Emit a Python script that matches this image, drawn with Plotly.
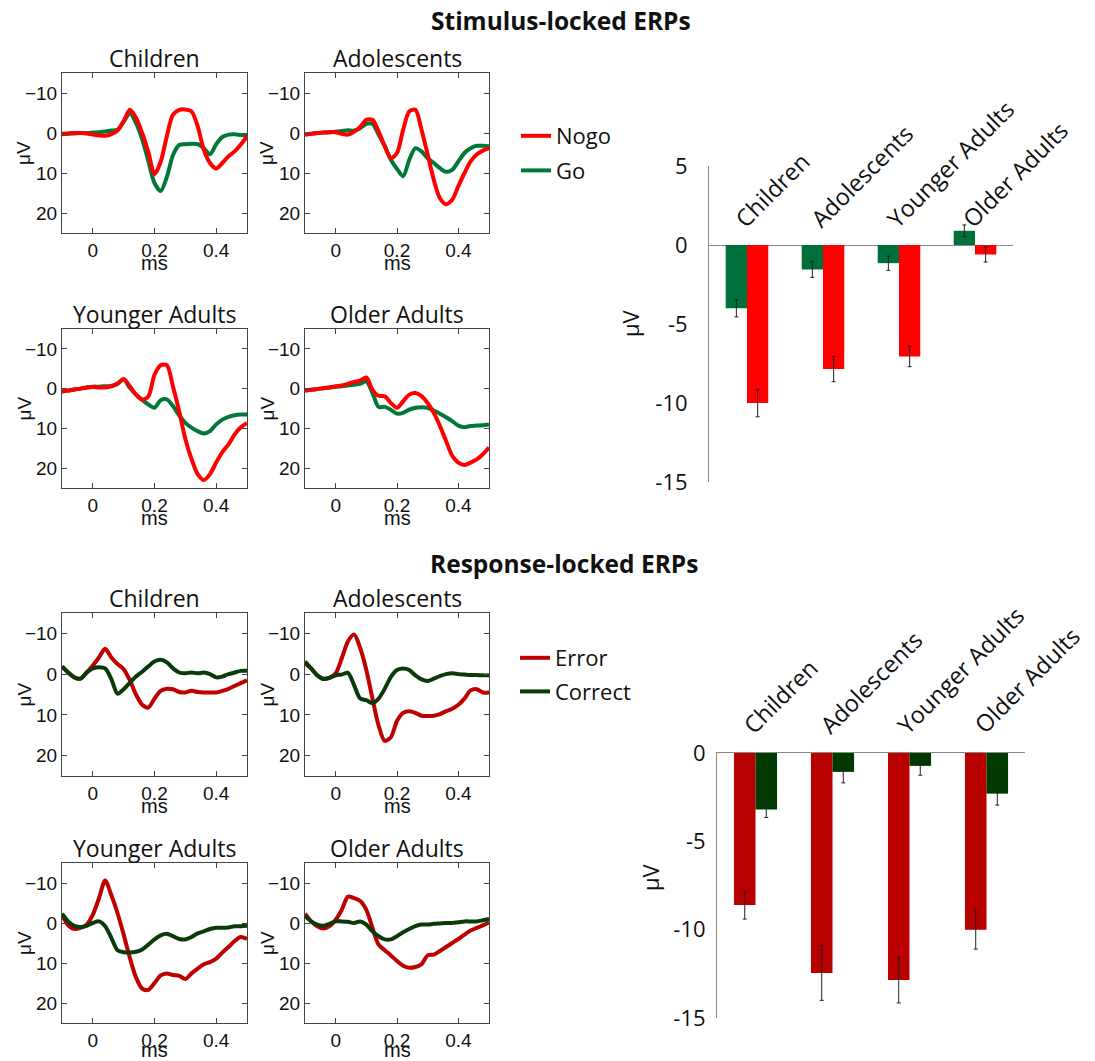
import plotly.graph_objects as go

W, H = 1095, 1061

# ---------------- data ----------------
groups = ["Children", "Adolescents", "Younger Adults", "Older Adults"]

time_s = [-0.10, -0.08, -0.06, -0.04, -0.02, 0.00, 0.02, 0.04, 0.06, 0.08, 0.10,
          0.12, 0.14, 0.16, 0.18, 0.20, 0.22, 0.24, 0.26, 0.28, 0.30, 0.32,
          0.34, 0.36, 0.38, 0.40, 0.42, 0.44, 0.46, 0.48, 0.50]

# Stimulus-locked ERPs (µV)
nogo_children = [0.2, 0.1, 0.0, 0.0, 0.1, 0.4, 0.6, 0.7, 0.3, -0.6, -3.0, -5.8, -3.8, 0.0, 4.8, 10.3,
                 7.2, 0.8, -4.6, -5.8, -5.9, -5.4, -1.7, 4.2, 7.5, 8.9, 7.5, 5.8, 4.6, 2.9, 0.8]
go_children = [0.3, 0.2, 0.1, 0.0, 0.0, -0.1, -0.2, -0.4, -0.6, -0.8, -2.8, -5.0, -2.5, 1.5, 7.0, 12.5,
               14.5, 11.0, 5.5, 3.0, 2.8, 2.7, 2.8, 3.8, 5.3, 2.8, 1.0, 0.4, 0.3, 0.5, 0.6]
nogo_adolescents = [0.4, 0.2, 0.0, -0.1, -0.2, -0.2, 0.2, 0.4, -0.3, -1.5, -3.3, -3.3, -0.4, 3.3, 6.3, 5.0,
                    -0.8, -5.4, -5.8, -0.8, 5.4, 11.7, 16.3, 17.8, 16.7, 13.3, 10.0, 7.1, 5.4, 4.4, 3.8]
go_adolescents = [0.4, 0.2, 0.0, -0.1, -0.2, -0.3, -0.5, -0.7, -0.6, -1.2, -2.3, -2.3, 0.4, 3.3, 6.7, 9.0,
                  10.8, 6.7, 3.8, 4.6, 6.3, 7.5, 8.8, 9.7, 9.2, 7.1, 5.0, 3.8, 3.2, 3.2, 3.3]
nogo_younger = [0.7, 0.5, 0.2, 0.0, -0.3, -0.4, -0.3, -0.3, -0.6, -1.3, -2.4, -0.6, 1.5, 2.8, 2.0, -3.5,
                -5.9, -5.9, -0.5, 5.7, 12.7, 17.7, 21.5, 23.0, 21.5, 18.6, 16.0, 14.0, 11.5, 9.7, 8.6]
go_younger = [0.7, 0.5, 0.2, 0.0, -0.3, -0.5, -0.5, -0.6, -0.7, -1.2, -2.3, -0.2, 1.5, 2.8, 4.0, 4.8,
              2.9, 2.7, 4.4, 6.7, 8.6, 9.8, 10.7, 11.3, 10.7, 9.0, 7.8, 7.1, 6.7, 6.5, 6.5]
nogo_older = [0.5, 0.3, 0.1, -0.1, -0.3, -0.6, -0.8, -1.2, -1.7, -2.0, -2.8, 0.3, 1.8, 1.9, 3.6, 4.8,
              3.2, 1.5, 1.1, 1.9, 3.6, 6.1, 9.4, 13.2, 16.9, 18.6, 19.2, 18.6, 17.8, 16.5, 14.8]
go_older = [0.5, 0.3, 0.1, -0.1, -0.3, -0.5, -0.6, -0.8, -1.0, -1.2, -1.8, 1.1, 4.6, 4.6, 5.3, 6.3,
            6.1, 5.3, 4.8, 4.7, 4.8, 5.5, 6.3, 7.2, 8.2, 9.3, 9.7, 9.4, 9.3, 9.2, 9.0]

# Response-locked ERPs (µV)
error_children = [-1.9, -0.4, 0.8, 1.1, -0.4, -2.1, -4.1, -6.2, -4.1, -2.5, -1.2, 1.5, 5.0, 7.5, 8.2, 6.0,
                  4.1, 3.6, 3.7, 4.4, 4.5, 4.1, 4.4, 4.5, 4.5, 4.5, 4.1, 3.6, 2.9, 2.2, 1.5]
correct_children = [-1.9, -0.4, 0.8, 1.1, -0.4, -1.4, -1.7, -1.4, 1.2, 4.8, 3.7, 2.1, 0.6, -0.6, -1.9, -3.1,
                    -3.5, -2.9, -1.4, -0.4, -0.2, -0.4, -0.2, -0.4, 0.0, 0.8, 0.6, 0.0, -0.4, -0.8, -0.8]
error_adolescents = [-2.6, -1.4, 0.3, 1.1, 0.9, -0.2, -3.9, -8.0, -9.7, -6.4, -1.0, 6.0, 12.6, 16.4, 15.5, 11.5,
                     9.5, 9.1, 9.5, 10.2, 10.3, 10.2, 9.8, 9.1, 8.5, 7.5, 6.0, 4.0, 3.7, 4.5, 4.5]
correct_adolescents = [-3.1, -1.4, 0.3, 1.2, 0.9, 0.3, 0.1, -0.3, 2.7, 6.0, 6.4, 7.1, 6.0, 3.6, 0.7, -1.0,
                       -1.4, -1.0, 0.3, 1.3, 1.7, 1.1, 0.5, 0.0, -0.2, 0.0, 0.1, 0.2, 0.2, 0.3, 0.3]
error_younger = [-2.1, 0.6, 1.5, 1.2, 0.4, -2.1, -6.2, -10.6, -7.0, -2.5, 2.9, 8.7, 13.6, 16.4, 16.7, 15.0,
                 13.1, 12.6, 13.0, 13.2, 14.0, 12.6, 11.4, 10.3, 9.8, 8.9, 7.4, 6.0, 4.5, 3.5, 4.0]
correct_younger = [-2.3, -0.4, 0.7, 1.0, 0.7, 0.0, -0.4, 0.8, 3.7, 6.8, 7.3, 7.4, 7.2, 6.6, 5.4, 4.1,
                   3.1, 2.7, 3.3, 4.0, 4.1, 3.5, 2.6, 2.1, 1.5, 1.2, 1.2, 1.1, 0.8, 0.8, 0.7]
error_older = [-2.3, -0.4, 0.8, 1.4, 0.8, -0.8, -3.3, -6.6, -6.2, -5.5, -3.3, 1.2, 5.4, 6.8, 8.1, 9.5,
               10.7, 11.2, 11.0, 10.3, 8.1, 7.9, 7.0, 6.0, 5.0, 4.0, 2.9, 1.9, 1.2, 0.6, -0.2]
correct_older = [-1.8, -0.4, 0.4, 0.7, 0.2, -0.4, -0.4, -0.3, 0.0, -0.4, 0.4, 2.1, 3.3, 4.1, 4.1, 3.3,
                 2.3, 1.5, 0.8, 0.4, 0.4, 0.2, 0.1, 0.0, 0.0, -0.2, -0.4, -0.4, -0.4, -0.7, -1.0]

# Bar charts (mean, SE), µV
stim_go_mean = [-4.0, -1.55, -1.15, 0.9]
stim_go_se = [0.55, 0.5, 0.45, 0.37]
stim_nogo_mean = [-10.0, -7.85, -7.05, -0.6]
stim_nogo_se = [0.87, 0.8, 0.65, 0.48]
resp_error_mean = [-8.6, -12.45, -12.85, -10.0]
resp_error_se = [0.8, 1.55, 1.3, 1.1]
resp_correct_mean = [-3.2, -1.07, -0.73, -2.3]
resp_correct_se = [0.45, 0.62, 0.53, 0.65]

# tick labels
erp_xtickvals = [0, 0.2, 0.4]
erp_xticktext = ["0", "0.2", "0.4"]
erp_ytickvals = [-10, 0, 10, 20]
erp_yticktext = ["\u221210", "0", "10", "20"]
bar1_tickvals = [5, 0, -5, -10, -15]
bar1_ticktext = ["5", "0", "-5", "-10", "-15"]
bar2_tickvals = [0, -5, -10, -15]
bar2_ticktext = ["0", "-5", "-10", "-15"]

# ---------------- styling ----------------
C_NOGO = "#FF0000"
C_GO = "#00783A"
C_ERR = "#BE0000"
C_COR = "#0A3A0A"
C_GO_BAR = "#00703A"
C_ERR_BAR = "#B90000"
C_COR_BAR = "#003A00"

ERP_FONT = "Liberation Sans, Arial, sans-serif"
TXT_FONT = "Open Sans, Lato, sans-serif"


def px(x):
    return x / W


def py(y):
    return 1 - y / H


# panel boxes in pixels: (left, right, top, bottom)
panels = [
    (62, 247, 73, 233),    # stim children
    (305, 489, 73, 233),   # stim adolescents
    (62, 247, 329, 488),   # stim younger
    (305, 489, 329, 488),  # stim older
    (62, 247, 613, 776),   # resp children
    (305, 489, 613, 776),  # resp adolescents
    (62, 247, 863, 1023),  # resp younger
    (305, 489, 863, 1023), # resp older
]

stim_curves = [(nogo_children, go_children), (nogo_adolescents, go_adolescents),
               (nogo_younger, go_younger), (nogo_older, go_older)]
resp_curves = [(error_children, correct_children), (error_adolescents, correct_adolescents),
               (error_younger, correct_younger), (error_older, correct_older)]

fig = go.Figure()
layout = {}
annotations = []
LW = 4

for i, (l, r, t, b) in enumerate(panels):
    n = i + 1
    xa = "xaxis" if n == 1 else f"xaxis{n}"
    ya = "yaxis" if n == 1 else f"yaxis{n}"
    xr = "x" if n == 1 else f"x{n}"
    yr = "y" if n == 1 else f"y{n}"
    layout[xa] = dict(domain=[px(l), px(r)], range=[-0.1, 0.5], anchor=yr, automargin=False,
                      tickvals=erp_xtickvals, ticktext=erp_xticktext,
                      ticks="inside", ticklen=5, tickcolor="#444",
                      showline=True, linecolor="#444", linewidth=1, mirror="ticks",
                      showgrid=False, zeroline=False,
                      tickfont=dict(family=ERP_FONT, size=19, color="#111"))
    layout[ya] = dict(domain=[py(b), py(t)], range=[25, -15], anchor=xr, automargin=False,
                      tickvals=erp_ytickvals, ticktext=erp_yticktext,
                      ticks="inside", ticklen=5, tickcolor="#444",
                      showline=True, linecolor="#444", linewidth=1, mirror="ticks",
                      showgrid=False, zeroline=False,
                      tickfont=dict(family=ERP_FONT, size=19, color="#111"))
    if i < 4:
        red, green = stim_curves[i]
        # Go drawn first, Nogo on top
        fig.add_trace(go.Scatter(x=time_s, y=green, mode="lines", name="Go",
                                 line=dict(color=C_GO, width=LW, shape="spline", smoothing=0.8),
                                 xaxis=xr, yaxis=yr, legend="legend", legendgroup="go",
                                 legendrank=2, showlegend=(i == 0)))
        fig.add_trace(go.Scatter(x=time_s, y=red, mode="lines", name="Nogo",
                                 line=dict(color=C_NOGO, width=LW, shape="spline", smoothing=0.8),
                                 xaxis=xr, yaxis=yr, legend="legend", legendgroup="nogo",
                                 legendrank=1, showlegend=(i == 0)))
    else:
        red, green = resp_curves[i - 4]
        fig.add_trace(go.Scatter(x=time_s, y=red, mode="lines", name="Error",
                                 line=dict(color=C_ERR, width=LW, shape="spline", smoothing=0.8),
                                 xaxis=xr, yaxis=yr, legend="legend2", legendgroup="error",
                                 legendrank=1, showlegend=(i == 4)))
        fig.add_trace(go.Scatter(x=time_s, y=green, mode="lines", name="Correct",
                                 line=dict(color=C_COR, width=LW, shape="spline", smoothing=0.8),
                                 xaxis=xr, yaxis=yr, legend="legend2", legendgroup="correct",
                                 legendrank=2, showlegend=(i == 4)))
    # panel title
    annotations.append(dict(text=groups[i % 4], x=px((l + r) / 2), y=py(t - 15),
                            xref="paper", yref="paper", showarrow=False,
                            xanchor="center", yanchor="middle",
                            font=dict(family=TXT_FONT, size=23, color="#111")))
    # µV label
    annotations.append(dict(text="\u03bcV", x=px(l - 38), y=py((t + b) / 2),
                            xref="paper", yref="paper", showarrow=False, textangle=-90,
                            xanchor="center", yanchor="middle",
                            font=dict(family=ERP_FONT, size=19, color="#111")))
    # ms label
    annotations.append(dict(text="ms", x=px((l + r) / 2), y=py(min(b + 30, 1050)),
                            xref="paper", yref="paper", showarrow=False,
                            xanchor="center", yanchor="middle",
                            font=dict(family=ERP_FONT, size=20, color="#111")))

# ---------------- bar charts ----------------
err_style = dict(type="data", color="#222", thickness=1, width=2)

fig.add_trace(go.Bar(x=groups, y=stim_go_mean, name="Go",
                     error_y=dict(array=stim_go_se, **err_style),
                     marker=dict(color=C_GO_BAR, line=dict(width=0)),
                     xaxis="x9", yaxis="y9", showlegend=False))
fig.add_trace(go.Bar(x=groups, y=stim_nogo_mean, name="Nogo",
                     error_y=dict(array=stim_nogo_se, **err_style),
                     marker=dict(color=C_NOGO, line=dict(width=0)),
                     xaxis="x9", yaxis="y9", showlegend=False))
fig.add_trace(go.Bar(x=groups, y=resp_error_mean, name="Error",
                     error_y=dict(array=resp_error_se, **err_style),
                     marker=dict(color=C_ERR_BAR, line=dict(width=0)),
                     xaxis="x10", yaxis="y10", showlegend=False))
fig.add_trace(go.Bar(x=groups, y=resp_correct_mean, name="Correct",
                     error_y=dict(array=resp_correct_se, **err_style),
                     marker=dict(color=C_COR_BAR, line=dict(width=0)),
                     xaxis="x10", yaxis="y10", showlegend=False))

bar_tick_font = dict(family=TXT_FONT, size=22, color="#111")
layout["xaxis9"] = dict(domain=[px(709), px(1013)], anchor="y9", type="category", automargin=False,
                        categoryorder="array", categoryarray=groups, range=[-0.5, 3.5],
                        showticklabels=False, showline=False, showgrid=False, zeroline=False, ticks="")
layout["yaxis9"] = dict(domain=[py(482), py(166)], anchor="x9", range=[-15, 5], automargin=False,
                        tickvals=bar1_tickvals, ticktext=bar1_ticktext, ticks="",
                        showline=True, linecolor="#888", linewidth=1, showgrid=False,
                        zeroline=True, zerolinecolor="#888", zerolinewidth=1,
                        ticklabelstandoff=16, tickfont=bar_tick_font)
layout["xaxis10"] = dict(domain=[px(717), px(1025)], anchor="y10", type="category", automargin=False,
                         categoryorder="array", categoryarray=groups, side="top", range=[-0.5, 3.5],
                         showticklabels=False, showline=True, linecolor="#888", linewidth=1,
                         showgrid=False, zeroline=False, ticks="")
layout["yaxis10"] = dict(domain=[py(1018), py(753)], anchor="x10", range=[-15, 0], automargin=False,
                         tickvals=bar2_tickvals, ticktext=bar2_ticktext, ticks="",
                         showline=True, linecolor="#888", linewidth=1, showgrid=False,
                         zeroline=False, ticklabelstandoff=6, tickfont=bar_tick_font)

for g in groups:
    annotations.append(dict(text=g, x=g, y=0, xref="x9", yref="y9", showarrow=False,
                            textangle=-45, xanchor="left", yanchor="bottom",
                            xshift=-22, yshift=8,
                            font=dict(family=TXT_FONT, size=23.5, color="#111")))
    annotations.append(dict(text=g, x=g, y=0, xref="x10", yref="y10", showarrow=False,
                            textangle=-45, xanchor="left", yanchor="bottom",
                            xshift=-22, yshift=10,
                            font=dict(family=TXT_FONT, size=23.5, color="#111")))

# bar µV labels
annotations.append(dict(text="\u03bcV", x=px(630), y=py(323), xref="paper", yref="paper",
                        showarrow=False, textangle=-90, xanchor="center", yanchor="middle",
                        font=dict(family=TXT_FONT, size=22, color="#111")))
annotations.append(dict(text="\u03bcV", x=px(650), y=py(877), xref="paper", yref="paper",
                        showarrow=False, textangle=-90, xanchor="center", yanchor="middle",
                        font=dict(family=TXT_FONT, size=22, color="#111")))

# main titles
annotations.append(dict(text="Stimulus-locked ERPs", x=px(561), y=py(20), xref="paper", yref="paper",
                        showarrow=False, xanchor="center", yanchor="middle",
                        font=dict(family=TXT_FONT, size=24.5, color="#111", weight="bold")))
annotations.append(dict(text="Response-locked ERPs", x=px(564), y=py(563), xref="paper", yref="paper",
                        showarrow=False, xanchor="center", yanchor="middle",
                        font=dict(family=TXT_FONT, size=24.5, color="#111", weight="bold")))

legend_font = dict(family=TXT_FONT, size=22, color="#111")
fig.update_layout(
    width=W, height=H, autosize=False,
    margin=dict(l=0, r=0, t=0, b=0, pad=0),
    paper_bgcolor="white", plot_bgcolor="white",
    barmode="group", bargap=0.44, bargroupgap=0,
    font=dict(family=TXT_FONT, color="#111"),
    annotations=annotations,
    legend=dict(x=px(516), y=py(115), xanchor="left", yanchor="top", font=legend_font,
                bgcolor="rgba(0,0,0,0)", tracegroupgap=3, itemwidth=30),
    legend2=dict(x=px(515), y=py(637), xanchor="left", yanchor="top", font=legend_font,
                 bgcolor="rgba(0,0,0,0)", tracegroupgap=2, itemwidth=30),
    **layout,
)

fig.write_html("out.html", config={"displayModeBar": False},
               post_script="document.body.style.margin='0';")
